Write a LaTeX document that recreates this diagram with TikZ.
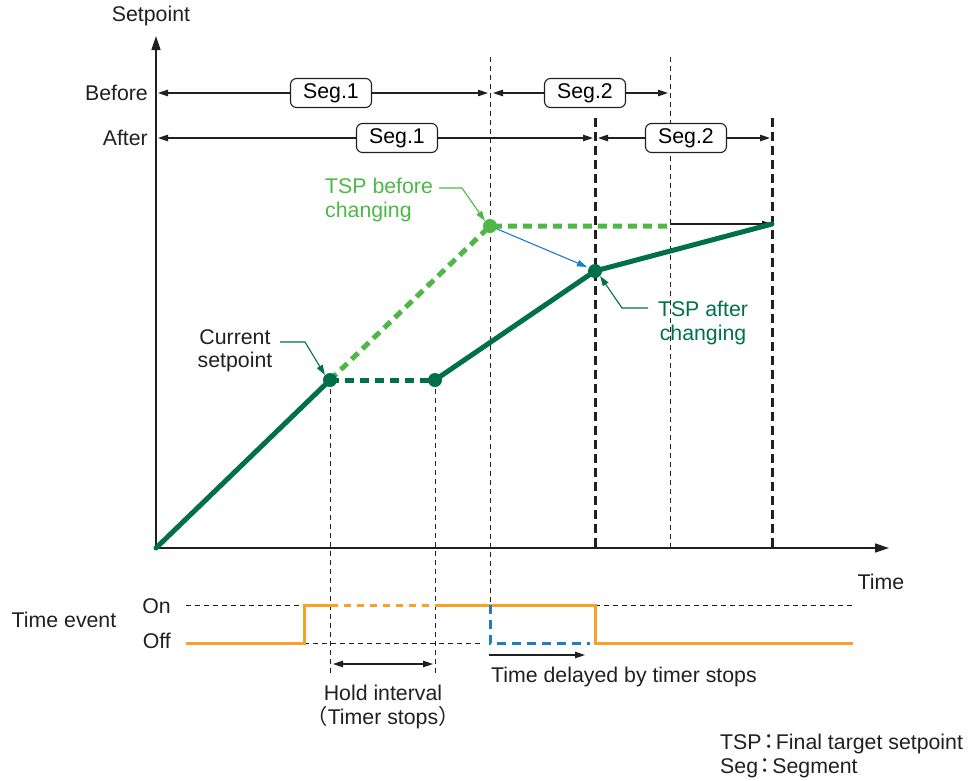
\documentclass[tikz,border=0pt]{standalone}
\usepackage{fontspec}
\setmainfont{Liberation Sans}
\newfontfamily\cjk{Noto Sans CJK JP}
\usetikzlibrary{arrows.meta}
\definecolor{dkgreen}{HTML}{00704A}
\definecolor{ltgreen}{HTML}{4DB848}
\definecolor{evorange}{HTML}{F7A224}
\definecolor{evblue}{HTML}{1A80C4}
\definecolor{txt}{HTML}{231F20}
\newcommand{\fwcolon}{{\kern-3.5pt\cjk ：\kern-3.5pt}}
\tikzset{
  tri/.tip={Triangle[length=10pt,width=6.5pt]},
  axisline/.style={line width=1.6pt, txt, -{Triangle[length=14pt,width=9pt]}},
  dim/.style={line width=1.1pt, txt, tri-tri},
  onearr/.style={line width=1.1pt, txt, -tri},
  thindash/.style={line width=1pt, txt, dash pattern=on 5pt off 4pt},
  thickdash/.style={line width=3pt, txt, dash pattern=on 9pt off 5pt},
  dkline/.style={line width=5pt, dkgreen, line cap=round},
  dkdash/.style={line width=5pt, dkgreen, dash pattern=on 9pt off 6pt},
  ltdash/.style={line width=5pt, ltgreen, dash pattern=on 9pt off 6pt},
  evline/.style={line width=3pt, evorange},
  evdash/.style={line width=3pt, evorange, dash pattern=on 7pt off 6pt},
  bluedash/.style={line width=3pt, evblue, dash pattern=on 9pt off 6pt},
  segbox/.style={draw=txt, line width=1.1pt, rounded corners=6pt, fill=white, minimum width=81pt, minimum height=29pt, inner sep=0pt},
  lbl/.style={text=txt, inner sep=0pt},
  dot/.style={circle, inner sep=0pt, minimum size=14pt},
}
\begin{document}
\begin{tikzpicture}[x=1pt,y=-1pt, font=\fontsize{21.3}{23.5}\selectfont]
\useasboundingbox (0,0) rectangle (972,780);
% coordinates
\coordinate (O) at (156,548);
\coordinate (ytop) at (156,36);
\coordinate (xend) at (889,548);
\coordinate (P1) at (330,380);
\coordinate (P2) at (435,380);
\coordinate (P3) at (490,226);
\coordinate (P4) at (595,271);
\coordinate (P5) at (772,224);
\coordinate (Q) at (670,226);
\coordinate (Qa) at (670,224);

% vertical guide lines
\draw[thindash] (330,380) -- (330,673);
\draw[thindash] (435,380) -- (435,673);
\draw[thindash] (490,57) -- (490,605);
\draw[thindash] (670,57) -- (670,548);
\draw[thickdash] (595,118) -- (595,548);
\draw[thickdash] (772,118) -- (772,548);

% axes
\draw[axisline] (O) -- (ytop);
\draw[axisline] (O) -- (xend);

% segment rows
\coordinate (b0) at (158,93); \coordinate (b1) at (488,93);
\coordinate (b2) at (493,93); \coordinate (b3) at (668,93);
\coordinate (a0) at (158,138); \coordinate (a1) at (593,138);
\coordinate (a2) at (598,138); \coordinate (a3) at (770,138);
\draw[dim] (b0) -- (b1);
\draw[dim] (b2) -- (b3);
\draw[dim] (a0) -- (a1);
\draw[dim] (a2) -- (a3);
\node[segbox] (sb1) at (331,93) {Seg.1};
\node[segbox] (sb2) at (585,93) {Seg.2};
\node[segbox] (sa1) at (397,138) {Seg.1};
\node[segbox] (sa2) at (686,138) {Seg.2};

% labels
\node[lbl] (ylab) at (151,16) {Setpoint};
\node[lbl, anchor=east] (before) at (148,93) {Before};
\node[lbl, anchor=east] (after) at (148,138) {After};
\node[lbl] (xlab) at (881,582) {Time};

% setpoint curves
\draw[ltdash] (P1) -- (P3) -- (Q);
\draw[onearr] (Qa) -- (P5);
\draw[dkline] (O) -- (P1);
\draw[dkdash] (P1) -- (P2);
\draw[dkline] (P2) -- (P4) -- (P5);
\draw[line width=1.1pt, evblue, -{Triangle[length=10pt,width=6.5pt]}] (P3) -- (587,267);
\node[dot, fill=dkgreen] (d1) at (P1) {};
\node[dot, fill=dkgreen] (d2) at (P2) {};
\node[dot, fill=ltgreen] (d3) at (P3) {};
\node[dot, fill=dkgreen] (d4) at (P4) {};

% callouts
\node[lbl, align=center] (cur) at (235,351) {Current\\setpoint};
\coordinate (c1) at (280,342); \coordinate (c2) at (305,342);
\draw[line width=1.1pt, dkgreen, -{Triangle[length=10pt,width=6.5pt]}] (c1) -- (c2) -- (d1.north west);
\node[lbl, text=ltgreen, align=left, anchor=west] (tspb) at (325,200) {TSP before\\changing};
\coordinate (t1) at (439,188); \coordinate (t2) at (462,188);
\draw[line width=1.1pt, ltgreen, -{Triangle[length=10pt,width=6.5pt]}] (t1) -- (t2) -- (d3.north west);
\node[lbl, text=dkgreen, align=center] (tspa) at (703,323) {TSP after\\changing};
\coordinate (u1) at (648,308); \coordinate (u2) at (622,308);
\draw[line width=1.1pt, dkgreen, -{Triangle[length=10pt,width=6.5pt]}] (u1) -- (u2) -- (d4.south east);

% time event
\node[lbl] (tev) at (64,620) {Time event};
\node[lbl, anchor=east] (on) at (171,606) {On};
\node[lbl, anchor=east] (off) at (171,641) {Off};
\draw[thindash] (186,605) -- (304,605);
\draw[thindash] (595,605) -- (853,605);
\draw[thindash] (304,643) -- (480,643);
\draw[evline] (186,643) -- (304,643) -- (304,605) -- (331,605);
\draw[evdash] (331,605) -- (437,605);
\draw[evline] (437,605) -- (595,605) -- (595,643) -- (853,643);
\draw[bluedash] (490,605) -- (490,643) -- (590,643);

% interval arrows
\coordinate (h0) at (333,664); \coordinate (h1) at (433,664);
\draw[dim] (h0) -- (h1);
\node[lbl, align=center] (hold) at (383,707) {Hold interval\\{\cjk （}Timer stops{\cjk ）}};
\coordinate (k0) at (489,655); \coordinate (k1) at (585,655);
\draw[onearr] (k0) -- (k1);
\node[lbl, anchor=west] (delay) at (491,677) {Time delayed by timer stops};

% legend
\node[lbl, align=left, anchor=west] (legend) at (720,756) {TSP\fwcolon Final target setpoint\\Seg\fwcolon Segment};
\end{tikzpicture}
\end{document}
